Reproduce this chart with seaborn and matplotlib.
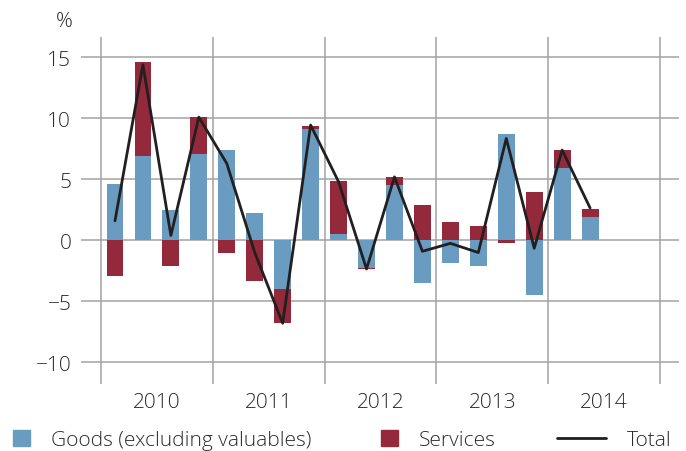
import numpy as np
import pandas as pd
import seaborn as sns
from matplotlib import pyplot as plt
from matplotlib import patches as mpatches
from matplotlib.lines import Line2D

# quarterly contributions, % (2010 Q1 .. 2014 Q2)
quarters = ['2010Q1', '2010Q2', '2010Q3', '2010Q4',
            '2011Q1', '2011Q2', '2011Q3', '2011Q4',
            '2012Q1', '2012Q2', '2012Q3', '2012Q4',
            '2013Q1', '2013Q2', '2013Q3', '2013Q4',
            '2014Q1', '2014Q2']
goods = [4.6, 6.9, 2.5, 7.1, 7.4, 2.2, -4.0, 9.1, 0.5, -2.3, 4.5, -3.5,
         -1.9, -2.1, 8.7, -4.5, 5.9, 1.9]
services = [-2.9, 7.7, -2.1, 3.0, -1.0, -3.3, -2.8, 0.3, 4.4, -0.05, 0.7, 2.9,
            1.5, 1.2, -0.2, 4.0, 1.5, 0.7]
total = [1.6, 14.4, 0.4, 10.1, 6.3, -1.0, -6.8, 9.45, 4.8, -2.35, 5.2, -0.9,
         -0.25, -1.0, 8.35, -0.65, 7.4, 2.65]
years = ['2010', '2011', '2012', '2013', '2014']
yticks = [-10, -5, 0, 5, 10, 15]

blue = '#6a9bc1'
red = '#93293b'
black = '#231f20'
grey = '#a3a3a3'
txt = '#2b2b2b'
fs = 15

df = pd.DataFrame({'quarter': quarters, 'goods': goods,
                   'services': services, 'total': total})
df['pos'] = np.arange(len(df))
# services stack on goods when same sign, otherwise start at zero
same = np.sign(df['goods']) == np.sign(df['services'])
df['serv_top'] = np.where(same, df['goods'] + df['services'], df['services'])

sns.set_theme(style='white')
plt.rcParams['font.family'] = ['Open Sans', 'DejaVu Sans']
plt.rcParams['font.weight'] = 'light'

fig = plt.figure(figsize=(6.86, 4.52), dpi=100)
ax = fig.add_axes([81/686, 1-385/452, 598/686, 347/452])

sns.barplot(data=df, x='pos', y='serv_top', native_scale=True, width=0.6,
            color=red, saturation=1, linewidth=0, ax=ax)
sns.barplot(data=df, x='pos', y='goods', native_scale=True, width=0.6,
            color=blue, saturation=1, linewidth=0, ax=ax)
sns.lineplot(data=df, x='pos', y='total', color=black, lw=2, ax=ax)

ax.set_xlim(-1.216, 20.18)
ax.set_ylim(-11.78, 16.67)
ax.set_yticks(yticks)
ax.set_xticks([1.5 + 4*i for i in range(len(years))])
ax.set_xticklabels(years)
ax.set_xticks([-0.5 + 4*i for i in range(len(years) + 1)], minor=True)
ax.set_xlabel('')
ax.set_ylabel('')
ax.set_axisbelow(True)
ax.grid(axis='y', which='major', color=grey, lw=1.1)
ax.grid(axis='x', which='minor', color=grey, lw=1.1)
ax.grid(axis='x', which='major', visible=False)
ax.tick_params(axis='both', which='both', length=0, labelsize=fs,
               labelcolor=txt)
ax.tick_params(axis='y', pad=7)
ax.tick_params(axis='x', pad=6)
for s in ax.spines.values():
    s.set_visible(False)

fig.text(73/686, 1-22/452, '%', ha='right', va='center', fontsize=fs,
         color=txt)

# legend, one entry per block
handles = [mpatches.Patch(color=blue), mpatches.Patch(color=red),
           Line2D([], [], color=black, lw=2)]
labels = ['Goods (excluding valuables)', 'Services', 'Total']
xs = [13, 381, 557]
hlens = [0.82, 0.82, 2.35]
for h, l, x, hl in zip(handles, labels, xs, hlens):
    leg = fig.legend(handles=[h], labels=[l], loc='center left',
                     bbox_to_anchor=(x/686, 1-441/452), frameon=False,
                     borderpad=0, borderaxespad=0, handlelength=hl,
                     handleheight=0.82, handletextpad=1.0, fontsize=fs)
    for t in leg.get_texts():
        t.set_color(txt)

fig.savefig('out.png', dpi=100)
